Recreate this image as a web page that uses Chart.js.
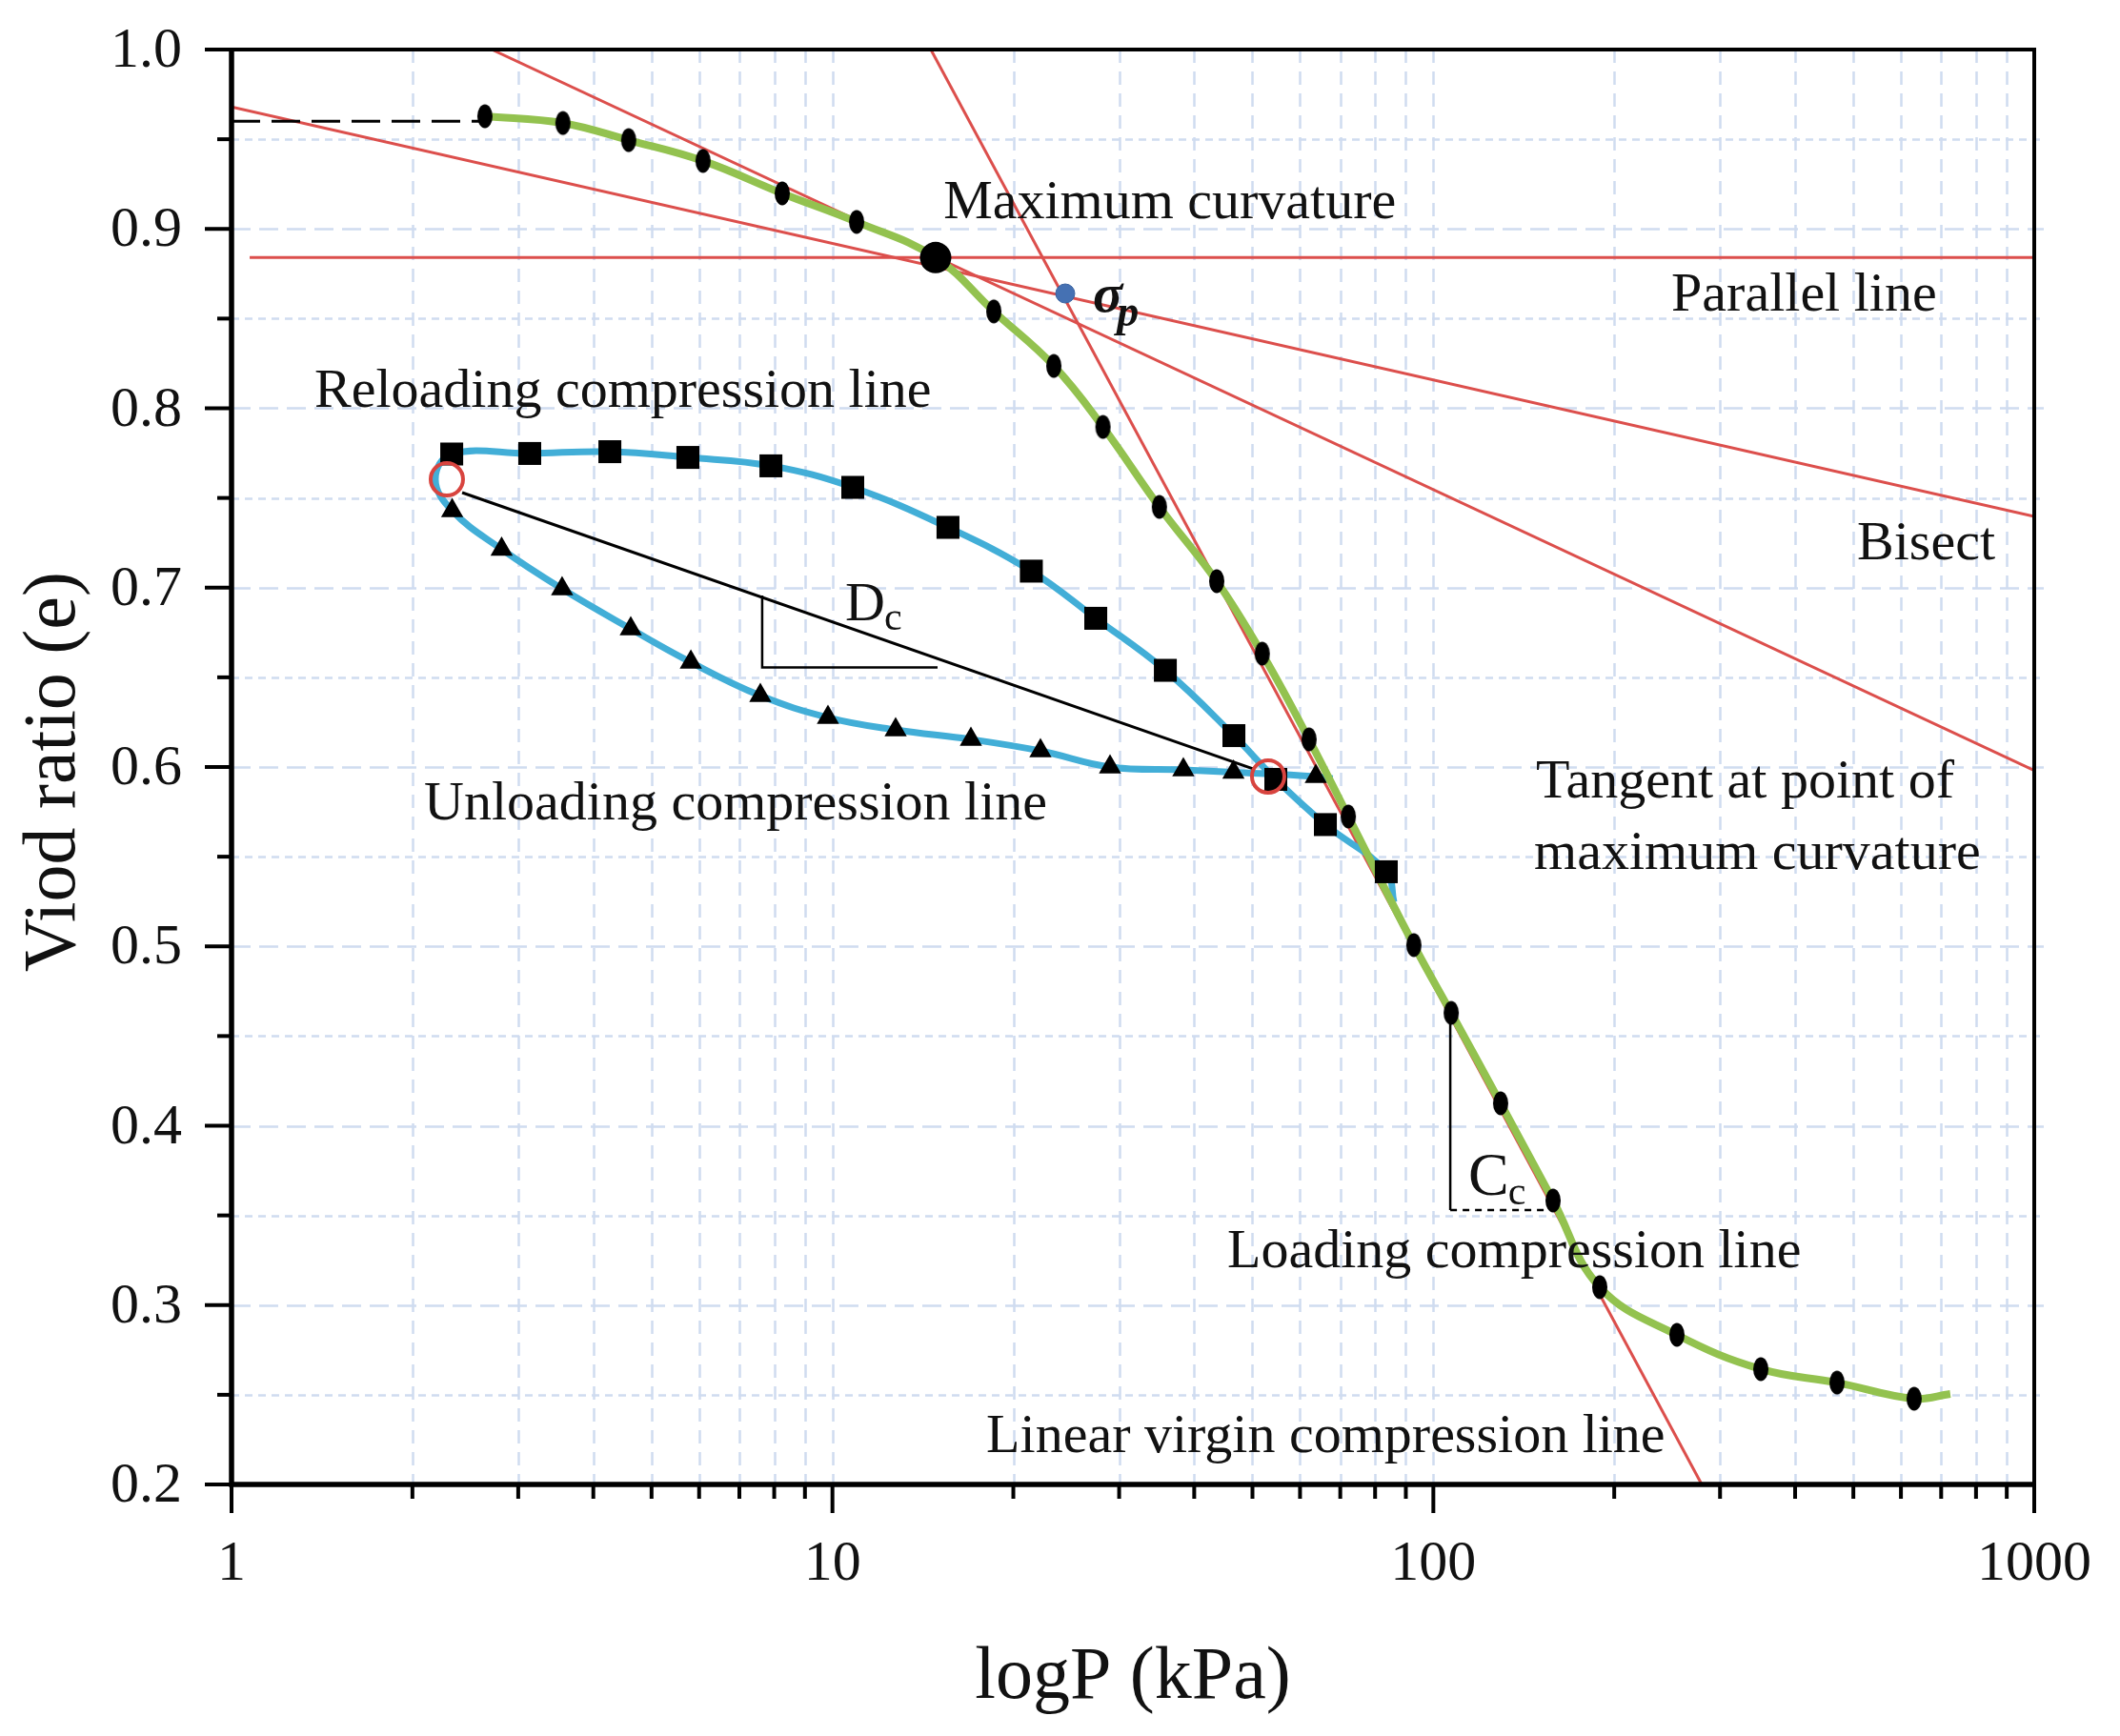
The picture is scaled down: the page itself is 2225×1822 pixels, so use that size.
<!DOCTYPE html>
<html>
<head>
<meta charset="utf-8">
<style>
html,body{margin:0;padding:0;background:#ffffff;}
#wrap{width:2225px;height:1822px;position:relative;}
</style>
<script src="https://cdn.jsdelivr.net/npm/chart.js@4.4.0/dist/chart.umd.min.js"></script>
</head>
<body>
<div id="wrap"><canvas id="c"></canvas></div>
<script>
// ---------------- data ----------------
const loadP = [2.64,3.56,4.58,6.09,8.25,10.97,18.56,23.36,28.2,35.0,43.6,51.9,62.1,72.2,92.8,107.1,129.4,158.2,189.2,254.3,350.7,469.7,631.1];
const loadE = [0.9628,0.959,0.9495,0.9379,0.9198,0.9039,0.854,0.8236,0.7896,0.745,0.7036,0.6632,0.6154,0.5724,0.5007,0.4629,0.4125,0.3583,0.3100,0.2834,0.2643,0.2568,0.2478];
const loadEndP = [725];
const loadEndE = [0.2505];
const maxCurvP = [14.85];
const maxCurvE = [0.884];
const sigmaPP = [24.4];
const sigmaPE = [0.864];

const reloadP = [2.325,3.135,4.262,5.747,7.90,10.81,15.57,21.43,27.43,35.81,46.57,54.68,66.12,83.5];
const reloadE = [0.7745,0.7748,0.7758,0.7726,0.7679,0.7559,0.7336,0.7092,0.6829,0.6539,0.6175,0.5931,0.5679,0.5416];
const reloadEndP = [86.0];
const reloadEndE = [0.5246];

const unloadP = [2.329,2.815,3.549,4.617,5.813,7.586,9.83,12.74,17.00,22.19,28.97,38.37,46.49,63.74];
const unloadE = [0.7429,0.7214,0.6993,0.6770,0.6584,0.6398,0.6276,0.6207,0.6154,0.6090,0.6000,0.5984,0.5971,0.5947];
const unloadStartP = [68.0];
const unloadStartE = [0.5935];
const loopTurnP = [2.184];
const loopTurnE = [0.7604];

const circleP = [2.282, 53.1];
const circleE = [0.7604, 0.5947];

const parallelP = [1.072, 1000];
const parallelE = [0.884, 0.884];
const tangentP = [2.71, 1000];
const tangentE = [1.0, 0.598];
const bisectP = [1, 1000];
const bisectE = [0.968, 0.7397];
const virginP = [14.58, 279.7];
const virginE = [1.0, 0.2];
const initP = [1, 2.63];
const initE = [0.96, 0.96];
const dcLineP = [2.42, 50.1];
const dcLineE = [0.753, 0.599];
const dcTriP = [7.64, 7.64, 14.96];
const dcTriE = [0.6956, 0.6555, 0.6555];
const ccVertP = [106.7, 106.7];
const ccVertE = [0.4629, 0.3530];
const ccHorP = [106.7, 155.9];
const ccHorE = [0.3530, 0.3530];

const xTickValues = [1, 10, 100, 1000];
const xTickLabels = ['1', '10', '100', '1000'];
const yTickValues = [0.2, 0.3, 0.4, 0.5, 0.6, 0.7, 0.8, 0.9, 1.0];
const yTickLabels = ['0.2', '0.3', '0.4', '0.5', '0.6', '0.7', '0.8', '0.9', '1.0'];
const xTitle = 'logP (kPa)';
const yTitle = 'Viod ratio (e)';

const labelText = ['Maximum curvature','Parallel line','Bisect','Tangent at point of','maximum curvature','Reloading compression line','Unloading compression line','Loading compression line','Linear virgin compression line'];
const labelP = [15.30, 248.9, 507.2, 148.2, 147.1, 1.374, 2.091, 45.4, 18.03];
const labelE = [0.9060, 0.8544, 0.7158, 0.5830, 0.5432, 0.8008, 0.5708, 0.3211, 0.2180];
const subText = ['D', 'C'];
const subSub = ['c', 'c'];
const subP = [10.50, 114.3];
const subE = [0.6818, 0.3615];
const sigmaText = ['\u03C3', 'p'];
const sigmaLabelP = [27.13];
const sigmaLabelE = [0.8539];

// ---------------- helpers ----------------
const xy = (P, E) => P.map((p, i) => ({x: p, y: E[i]}));
const RED = '#dc4f4c';
const CYAN = '#42aed7';
const GREEN = '#93c24f';
const SERIF = '"Liberation Serif", "Times New Roman", serif';

function ellipseMarker() {
  const c = document.createElement('canvas');
  c.width = 18; c.height = 28;
  const g = c.getContext('2d');
  g.fillStyle = '#000';
  g.beginPath();
  g.ellipse(9, 14, 8, 12.5, 0, 0, Math.PI * 2);
  g.fill();
  return c;
}

const greenCurve = xy(loadP.concat(maxCurvP, loadEndP), loadE.concat(maxCurvE, loadEndE)).sort((a, b) => a.x - b.x);
const cyanCurve = xy(unloadStartP, unloadStartE)
  .concat(xy(unloadP.slice().reverse(), unloadE.slice().reverse()))
  .concat(xy(loopTurnP, loopTurnE), xy(reloadP, reloadE), xy(reloadEndP, reloadEndE));

const lineDs = (label, data, color, width, dash, order) => ({
  label, data, showLine: true, borderColor: color, borderWidth: width,
  borderDash: dash || [], pointRadius: 0, tension: 0, order, fill: false
});

// ---------------- decoration plugin ----------------
const decor = {
  id: 'decor',
  beforeDatasetsDraw(chart) {
    const {ctx, chartArea: a, scales: {x, y}} = chart;
    ctx.save();
    ctx.strokeStyle = '#cfdcf0';
    ctx.lineWidth = 2.5;
    for (let d = 1; d < 1000; d *= 10) {
      for (let k = 1; k <= 9; k++) {
        const v = d * k;
        if (v <= 1 || v >= 1000) continue;
        const px = Math.round(x.getPixelForValue(v)) + 0.5;
        ctx.setLineDash([14, 9]);
        ctx.beginPath(); ctx.moveTo(px, a.top); ctx.lineTo(px, a.bottom); ctx.stroke();
      }
    }
    for (let i = 1; i < 16; i++) {
      const v = 0.2 + i * 0.05;
      const py = Math.round(y.getPixelForValue(v)) + 0.5;
      ctx.setLineDash(i % 2 === 0 ? [20, 9] : [8, 6]);
      ctx.beginPath(); ctx.moveTo(a.left, py); ctx.lineTo(a.right + 10, py); ctx.stroke();
    }
    ctx.restore();
  },
  afterDatasetsDraw(chart) {
    const {ctx, chartArea: a, scales: {x, y}} = chart;
    ctx.save();
    ctx.setLineDash([]);
    ctx.strokeStyle = '#000';
    ctx.lineWidth = 4;
    for (let i = 0; i <= 16; i++) {
      const v = 0.2 + i * 0.05;
      const py = y.getPixelForValue(v);
      const len = (i % 2 === 0) ? 28 : 15;
      ctx.beginPath(); ctx.moveTo(a.left - len, py); ctx.lineTo(a.left, py); ctx.stroke();
    }
    for (let d = 1; d <= 1000; d *= 10) {
      for (let k = 1; k <= 9; k++) {
        const v = d * k;
        if (v > 1000) break;
        const px = x.getPixelForValue(v);
        const len = (k === 1) ? 30 : 15;
        ctx.beginPath(); ctx.moveTo(px, a.bottom); ctx.lineTo(px, a.bottom + len); ctx.stroke();
      }
    }
    ctx.lineWidth = 4;
    ctx.strokeRect(a.left, a.top, a.right - a.left, a.bottom - a.top);
    ctx.lineWidth = 5.5;
    ctx.beginPath(); ctx.moveTo(a.left, a.top - 2); ctx.lineTo(a.left, a.bottom); ctx.lineTo(a.right + 2, a.bottom); ctx.stroke();

    ctx.fillStyle = '#111';
    ctx.font = '60px ' + SERIF;
    ctx.textAlign = 'right';
    ctx.textBaseline = 'alphabetic';
    yTickValues.forEach((v, i) => {
      ctx.fillText(yTickLabels[i], a.left - 52, y.getPixelForValue(v) + 18);
    });
    ctx.textAlign = 'center';
    xTickValues.forEach((v, i) => {
      ctx.fillText(xTickLabels[i], x.getPixelForValue(v), a.bottom + 100);
    });

    ctx.font = '78px ' + SERIF;
    ctx.textAlign = 'center';
    ctx.fillText(xTitle, (a.left + a.right) / 2, a.bottom + 224);
    ctx.save();
    ctx.translate(a.left - 165, (a.top + a.bottom) / 2 + 5);
    ctx.rotate(-Math.PI / 2);
    ctx.fillText(yTitle, 0, 0);
    ctx.restore();

    ctx.textAlign = 'left';
    ctx.font = '58px ' + SERIF;
    labelText.forEach((t, i) => {
      ctx.fillText(t, x.getPixelForValue(labelP[i]), y.getPixelForValue(labelE[i]));
    });
    subText.forEach((t, i) => {
      const px = x.getPixelForValue(subP[i]);
      const py = y.getPixelForValue(subE[i]);
      ctx.font = (i === 1 ? '64px ' : '58px ') + SERIF;
      ctx.fillText(t, px, py);
      const w = ctx.measureText(t).width;
      ctx.font = '42px ' + SERIF;
      ctx.fillText(subSub[i], px + w - 1, py + 10);
    });
    {
      const px = x.getPixelForValue(sigmaLabelP[0]);
      const py = y.getPixelForValue(sigmaLabelE[0]);
      ctx.font = 'italic bold 58px ' + SERIF;
      ctx.fillText(sigmaText[0], px, py);
      const w = ctx.measureText(sigmaText[0]).width;
      ctx.font = 'italic bold 46px ' + SERIF;
      ctx.fillText(sigmaText[1], px + w - 6, py + 15);
    }
    ctx.restore();
  }
};

// ---------------- chart ----------------
const ell = ellipseMarker();
new Chart(document.getElementById('c'), {
  type: 'scatter',
  data: {
    datasets: [
      lineDs('Parallel line', xy(parallelP, parallelE), RED, 3, null, 90),
      lineDs('Tangent', xy(tangentP, tangentE), RED, 3, null, 90),
      lineDs('Bisect', xy(bisectP, bisectE), RED, 3, null, 90),
      lineDs('Linear virgin compression line', xy(virginP, virginE), RED, 3, null, 90),
      lineDs('Initial void ratio', xy(initP, initE), '#000', 3, [30, 12], 85),
      lineDs('Dc line', xy(dcLineP, dcLineE), '#000', 3, null, 80),
      lineDs('Dc triangle', xy(dcTriP, dcTriE), '#000', 2.5, null, 80),
      lineDs('Cc vertical', xy(ccVertP, ccVertE), '#000', 2.5, null, 80),
      lineDs('Cc horizontal', xy(ccHorP, ccHorE), '#000', 2.5, [7, 6], 80),
      {label: 'Unloading/reloading curve', data: cyanCurve, showLine: true, borderColor: CYAN, borderWidth: 7, tension: 0.4, pointRadius: 0, order: 60},
      {label: 'Loading curve', data: greenCurve, showLine: true, borderColor: GREEN, borderWidth: 8, tension: 0.4, pointRadius: 0, order: 50},
      {label: 'Reloading', data: xy(reloadP, reloadE), pointStyle: 'rect', pointRadius: 17, backgroundColor: '#000', borderColor: '#000', borderWidth: 0, order: 40},
      {label: 'Unloading', data: xy(unloadP, unloadE), pointStyle: 'triangle', pointRadius: 13.5, backgroundColor: '#000', borderColor: '#000', borderWidth: 0, order: 40},
      {label: 'Loading', data: xy(loadP, loadE), pointStyle: ell, pointRadius: 13, order: 40},
      {label: 'Maximum curvature', data: xy(maxCurvP, maxCurvE), pointStyle: 'circle', pointRadius: 16.5, backgroundColor: '#000', borderColor: '#000', borderWidth: 0, order: 30},
      {label: 'sigma p', data: xy(sigmaPP, sigmaPE), pointStyle: 'circle', pointRadius: 10, backgroundColor: '#4571b3', borderColor: '#3a62a0', borderWidth: 1, order: 30},
      {label: 'Circles', data: xy(circleP, circleE), pointStyle: 'circle', pointRadius: 17, backgroundColor: 'rgba(0,0,0,0)', borderColor: '#d8443f', borderWidth: 4, order: 20}
    ]
  },
  options: {
    responsive: true,
    maintainAspectRatio: false,
    devicePixelRatio: 1,
    animation: false,
    events: [],
    layout: {padding: {left: 243, top: 52, right: 90, bottom: 264}},
    plugins: {legend: {display: false}, tooltip: {enabled: false}},
    scales: {
      x: {type: 'logarithmic', min: 1, max: 1000, display: false},
      y: {type: 'linear', min: 0.2, max: 1.0, display: false}
    }
  },
  plugins: [decor]
});
</script>
</body>
</html>
